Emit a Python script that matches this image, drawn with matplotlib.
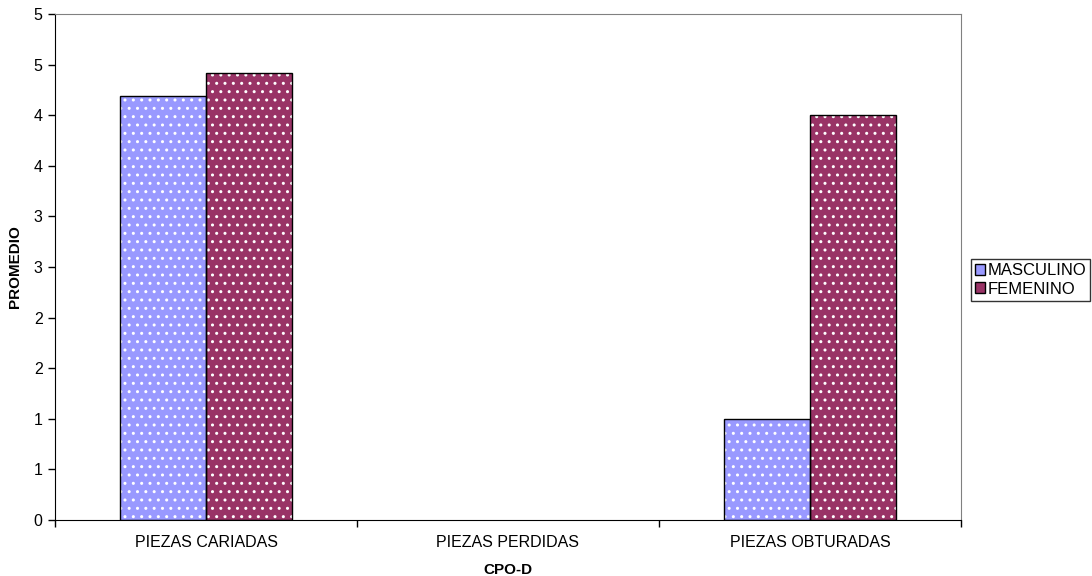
import numpy as np
import matplotlib.pyplot as plt
from matplotlib.patches import Patch
from matplotlib.ticker import FixedLocator, FuncFormatter

plt.rcParams['font.family'] = ['Liberation Sans', 'DejaVu Sans']

categorias = ['PIEZAS CARIADAS', 'PIEZAS PERDIDAS', 'PIEZAS OBTURADAS']
masculino = [4.19, 0.0, 1.0]
femenino = [4.42, 0.0, 4.0]
series = ['MASCULINO', 'FEMENINO']
colores = ['#9999FF', '#993366']

fig = plt.figure(figsize=(10.92, 5.76), dpi=100)
ax = fig.add_axes([0.0504, 0.0972, 0.8296, 0.8785])

x = np.arange(len(categorias))
w = 0.285
for vals, off, c in [(masculino, -w / 2, colores[0]), (femenino, w / 2, colores[1])]:
    lw = [1 if v > 0 else 0 for v in vals]
    ax.bar(x + off, vals, w, color=c, edgecolor='white', hatch='..', linewidth=0, zorder=2)
    ax.bar(x + off, vals, w, fill=False, edgecolor='black', linewidth=lw, zorder=3)

ax.set_xlim(-0.5, len(categorias) - 0.5)
ax.set_ylim(0, 5)

# y ticks every 0.5, labels rounded like the original
ax.yaxis.set_major_locator(FixedLocator(np.arange(0, 5.01, 0.5)))
ax.yaxis.set_major_formatter(FuncFormatter(lambda v, p: '%d' % int(v + 0.5)))

ax.xaxis.set_major_locator(FixedLocator(np.arange(-0.5, len(categorias), 1.0)))
ax.xaxis.set_major_formatter(FuncFormatter(lambda v, p: ''))
ax.xaxis.set_minor_locator(FixedLocator(x))
ax.set_xticklabels(categorias, minor=True)
ax.tick_params(axis='x', which='minor', length=0, pad=11, labelsize=11.5)
ax.tick_params(axis='x', which='major', length=5, width=1, color='black')
ax.tick_params(axis='y', length=5, width=1, labelsize=11.5, pad=4)

for s in ['top', 'right']:
    ax.spines[s].set_color('#808080')
for s in ['left', 'bottom']:
    ax.spines[s].set_color('black')

ax.set_ylabel('PROMEDIO', fontsize=11, fontweight='bold', labelpad=8)
ax.set_xlabel('CPO-D', fontsize=11, fontweight='bold', labelpad=9)

handles = [Patch(facecolor=c, edgecolor='black', linewidth=1) for c in colores]
leg = fig.legend(handles, series, loc='center left', bbox_to_anchor=(0.889, 0.514),
                 frameon=True, fancybox=False, edgecolor='black', fontsize=12,
                 handlelength=0.6, handleheight=0.6, handletextpad=0.15,
                 borderpad=0.25, labelspacing=0.2, borderaxespad=0)
leg.get_frame().set_linewidth(1)

fig.savefig('out.png', dpi=100)
